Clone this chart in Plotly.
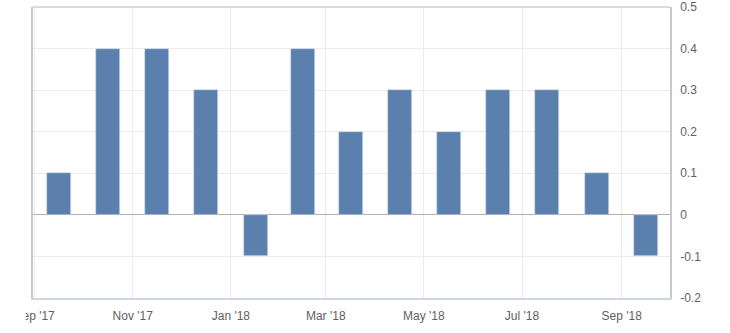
import plotly.graph_objects as go

months = ["2017-09-01", "2017-10-01", "2017-11-01", "2017-12-01", "2018-01-01",
          "2018-02-01", "2018-03-01", "2018-04-01", "2018-05-01", "2018-06-01",
          "2018-07-01", "2018-08-01", "2018-09-01"]
values = [0.1, 0.4, 0.4, 0.3, -0.1, 0.4, 0.2, 0.3, 0.2, 0.3, 0.3, 0.1, -0.1]
y_ticks = [0.5, 0.4, 0.3, 0.2, 0.1, 0, -0.1, -0.2]
y_labels = ["0.5", "0.4", "0.3", "0.2", "0.1", "0", "-0.1", "-0.2"]

fig = go.Figure()
fig.add_trace(go.Bar(
    x=months, y=values,
    xperiod="M1", xperiodalignment="middle",
    width=15 * 86400000,
    marker=dict(color="#5b80ad", line=dict(color="#d8e0ec", width=0.6)),
))

font = dict(family="Liberation Sans, Arial, sans-serif", size=12, color="#606060")
fig.update_layout(
    width=730, height=333,
    margin=dict(l=33, r=60, t=7, b=35, autoexpand=False),
    paper_bgcolor="white", plot_bgcolor="white",
    showlegend=False, bargap=0,
    font=font,
    xaxis=dict(
        type="date",
        range=["2017-08-31", "2018-10-01"],
        tick0="2017-09-01", dtick="M2", tickformat="%b '%y",
        showgrid=True, gridcolor="#ececec", gridwidth=1,
        showline=True, linecolor="#ccd6eb", linewidth=1.5,
        ticks="", ticklabelstandoff=6, tickfont=font,
        fixedrange=True, automargin=False,
    ),
    yaxis=dict(
        side="right",
        range=[-0.2, 0.5],
        tickvals=y_ticks, ticktext=y_labels,
        showgrid=True, gridcolor="#ececec", gridwidth=1,
        zeroline=True, zerolinecolor="#b0b0b0", zerolinewidth=1,
        showline=True, linecolor="#c8c8c8", linewidth=1.5, mirror=True,
        ticks="", ticklabelstandoff=6, tickfont=font,
        fixedrange=True, automargin=False,
    ),
    shapes=[
        dict(type="line", xref="paper", yref="paper", x0=0, x1=1, y0=1, y1=1,
             line=dict(color="#d0d0d0", width=1.5), layer="above"),
        dict(type="rect", xref="paper", yref="paper",
             x0=-0.2, x1=-0.0115, y0=-0.2, y1=-0.02,
             fillcolor="white", line=dict(width=0), layer="above"),
    ],
)

fig.write_html("out.html")
